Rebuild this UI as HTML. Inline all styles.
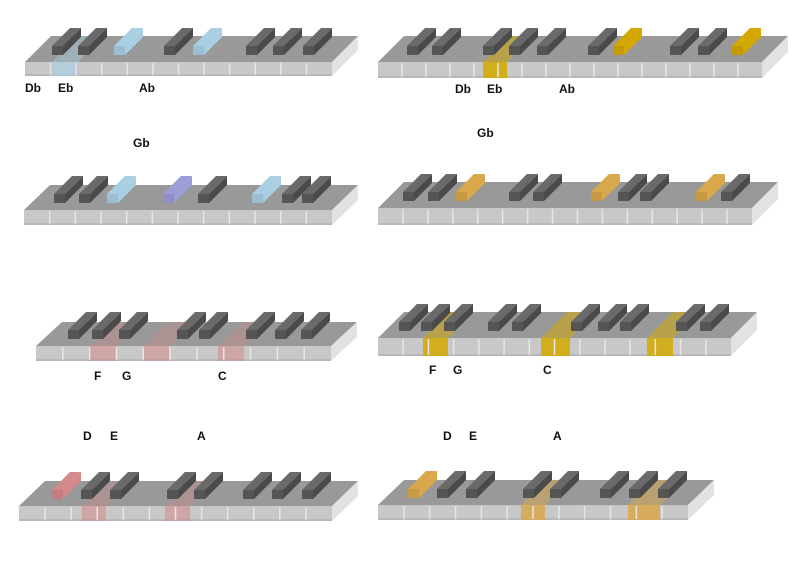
<!DOCTYPE html>
<html><head><meta charset="utf-8"><style>
html,body{margin:0;padding:0;background:#fff;width:800px;height:565px;overflow:hidden}
svg text{font-family:"Liberation Sans",sans-serif;font-weight:bold;font-size:12px;fill:#111}
</style></head><body>
<svg id="chart" width="800" height="565" viewBox="0 0 800 565" xmlns="http://www.w3.org/2000/svg"></svg>
<script>
// panel geometry: [x0, x1, frontTopY, frontH, depthDx, depthDy]
const panelGeom = [
  [25,332,62,14,26,26],[378,762,62,16,26,26],
  [24,332,210,15,26,25],[378,752,208,17,26,26],
  [36,331,346,15,26,24],[378,731,338,18,26,26],
  [19,332,506,15,26,25],[378,688,505,15,26,25]
];
const whiteCounts = [12,16,12,15,11,14,12,12];
const blackKeys = [
  [52,78,114,164,193,246,273,303],
  [407,432,483,509,537,588,613,670,698,732],
  [54,79,107,163,198,252,282,302],
  [403,428,456,509,533,591,618,640,696,721],
  [68,92,119,177,199,246,275,301],
  [399,421,444,488,512,571,598,620,676,700],
  [52,81,110,167,194,243,272,302],
  [408,437,466,523,550,600,629,658]
];
// highlight colour code for each black key: 0 none
const blackHi = [
  [0,0,1,0,1,0,0,0],
  [0,0,0,0,0,0,3,0,0,3],
  [0,0,1,0,2,0,1,0,0],
  [0,0,4,0,0,4,0,0,4,0],
  [0,0,0,0,0,0,0,0],
  [0,0,0,0,0,0,0,0,0,0],
  [5,0,0,0,0,0,0,0],
  [4,0,0,0,0,0,0,0]
];
blackHi[2]=[0,0,1,2,0,1,0,0];
const whiteStripes = [
  [[52,78,1]],[[483,507,3]],[],[],
  [[89,117,5],[143,169,5],[218,244,5]],
  [[423,448,3],[541,570,3],[647,673,3]],
  [[82,106,5],[165,190,5]],
  [[521,545,4],[628,660,4]]
];
const labelText = ["Db","Eb","Ab","Gb","Db","Eb","Ab","Gb","F","G","C","D","E","A","F","G","C","D","E","A"];
const labelX = [25,58,139,133,455,487,559,477,94,122,218,83,110,197,429,453,543,443,469,553];
const labelY = [92,92,92,147,93,93,93,137,380,380,380,440,440,440,374,374,374,440,440,440];

const hiColors = {1:"#a9cfe2",2:"#9c9cd6",3:"#d4a800",4:"#d9a84a",5:"#d48a8a"};
const NS="http://www.w3.org/2000/svg";
const svg=document.getElementById('chart');
function mk(tag,attrs,parent){const e=document.createElementNS(NS,tag);for(const k in attrs)e.setAttribute(k,attrs[k]);(parent||svg).appendChild(e);return e;}
function poly(pts,fill,parent,op){return mk('polygon',{points:pts.map(p=>p.join(',')).join(' '),fill:fill,'fill-opacity':op==null?1:op},parent);}

panelGeom.forEach((g,i)=>{
  const [x0,x1,y,h,dx,dy]=g;
  const grp=mk('g',{});
  
  
  // top face
  poly([[x0,y],[x1,y],[x1+dx,y-dy],[x0+dx,y-dy]],"#999999",grp);
  // right face
  poly([[x1,y],[x1+dx,y-dy],[x1+dx,y-dy+h],[x1,y+h]],"#e2e2e2",grp);
  // front face
  mk('rect',{x:x0,y:y,width:x1-x0,height:h,fill:"#c8c8c8"},grp);
  mk('rect',{x:x0,y:y+h-2,width:x1-x0,height:2,fill:"#b8b8b8"},grp);
  // white key stripes
  whiteStripes[i].forEach(s=>{
    const c=hiColors[s[2]];
    const op=(s[2]===5)?0.55:(s[2]===1?0.7:0.85);
    const st=mk('g',{},grp);
    
    
    poly([[s[0],y],[s[1],y],[s[1]+dx,y-dy],[s[0]+dx,y-dy]],c,st,op*0.6);
    mk('rect',{x:s[0],y:y,width:s[1]-s[0],height:h,fill:c,'fill-opacity':op},st);
  });
  // white key dividers
  const n=whiteCounts[i], w=(x1-x0)/n;
  for(let k=1;k<n;k++){
    const xx=x0+k*w;
    mk('line',{x1:xx,y1:y+1,x2:xx,y2:y+h-1,stroke:"#e6e6e6",'stroke-width':1.5},grp);
  }
  // black keys
  blackKeys[i].forEach((bx,j)=>{
    const hi=blackHi[i][j];
    const kf=hi?hiColors[hi]:"#555555";
    const kt=hi?hiColors[hi]:"#6a6a6a";
    const bw=11,bh=9,by=y-7-bh,kd=18;
    const kg=mk('g',{},grp);
    
    
    poly([[bx,by],[bx+bw,by],[bx+bw+kd,by-kd],[bx+kd,by-kd]],kt,kg);
    poly([[bx+bw,by],[bx+bw+kd,by-kd],[bx+bw+kd,by-kd+bh],[bx+bw,by+bh]],hi?kt:"#4a4a4a",kg);
    mk('rect',{x:bx,y:by,width:bw,height:bh,fill:kf},kg);
    if(hi) mk('rect',{x:bx,y:by,width:bw,height:bh,fill:"#000",'fill-opacity':0.08},kg);
  });
});
labelText.forEach((t,i)=>{
  const e=mk('text',{x:labelX[i],y:labelY[i]});
  e.textContent=t;
  
  
});
</script>
</body></html>
